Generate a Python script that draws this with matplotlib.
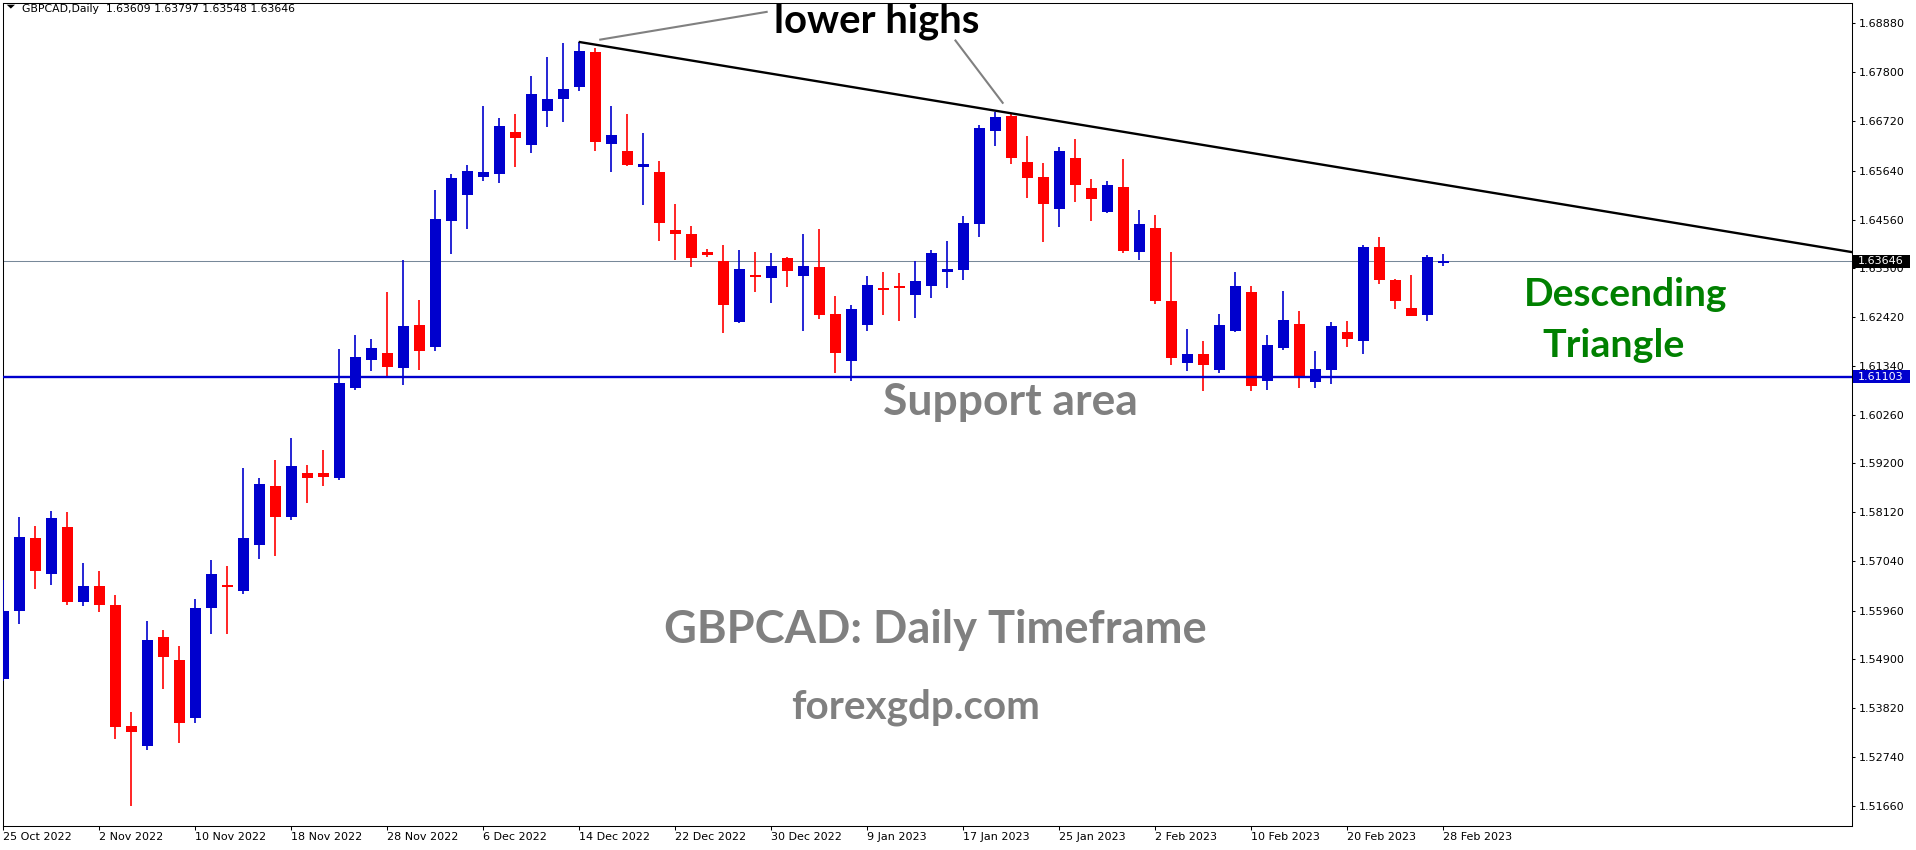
import matplotlib
matplotlib.use("Agg")
import matplotlib.pyplot as plt
import matplotlib.transforms as mtransforms
from matplotlib.patches import Rectangle, Polygon

# ---------------- data ----------------
symbol_header = "GBPCAD,Daily  1.63609 1.63797 1.63548 1.63646"
tick_labels = ["25 Oct 2022", "2 Nov 2022", "10 Nov 2022", "18 Nov 2022", "28 Nov 2022",
               "6 Dec 2022", "14 Dec 2022", "22 Dec 2022", "30 Dec 2022", "9 Jan 2023",
               "17 Jan 2023", "25 Jan 2023", "2 Feb 2023", "10 Feb 2023", "20 Feb 2023",
               "28 Feb 2023"]
bars_per_tick = 6

opens = [1.5446, 1.5596, 1.5755, 1.5676, 1.5779, 1.5615, 1.5649, 1.5609, 1.5341, 1.5298,
         1.5537, 1.5488, 1.5360, 1.5602, 1.5653, 1.5639, 1.5740, 1.5869, 1.5801, 1.5898,
         1.5898, 1.5887, 1.6085, 1.6147, 1.6163, 1.6129, 1.6224, 1.6175, 1.6454, 1.6511,
         1.6550, 1.6556, 1.6648, 1.6620, 1.6694, 1.6721, 1.6747, 1.6825, 1.6623, 1.6606,
         1.6571, 1.6560, 1.6433, 1.6424, 1.6384, 1.6365, 1.6230, 1.6334, 1.6327, 1.6371,
         1.6331, 1.6352, 1.6249, 1.6144, 1.6224, 1.6306, 1.6311, 1.6290, 1.6310, 1.6340,
         1.6345, 1.6447, 1.6652, 1.6685, 1.6583, 1.6550, 1.6480, 1.6592, 1.6526, 1.6472,
         1.6528, 1.6384, 1.6438, 1.6276, 1.6141, 1.6161, 1.6125, 1.6212, 1.6297, 1.6100,
         1.6173, 1.6227, 1.6098, 1.6125, 1.6208, 1.6188, 1.6395, 1.6323, 1.6262, 1.6246,
         1.63609]
highs = [1.5664, 1.5802, 1.5781, 1.5814, 1.5812, 1.5700, 1.5682, 1.5631, 1.5372, 1.5572,
         1.5554, 1.5519, 1.5622, 1.5708, 1.5693, 1.5910, 1.5888, 1.5927, 1.5976, 1.5917,
         1.5950, 1.6172, 1.6203, 1.6194, 1.6296, 1.6367, 1.6280, 1.6522, 1.6557, 1.6577,
         1.6706, 1.6679, 1.6689, 1.6772, 1.6814, 1.6845, 1.6847, 1.6834, 1.6706, 1.6689,
         1.6647, 1.6585, 1.6491, 1.6442, 1.6391, 1.6400, 1.6390, 1.6385, 1.6383, 1.6373,
         1.6424, 1.6436, 1.6289, 1.6268, 1.6333, 1.6341, 1.6339, 1.6364, 1.6390, 1.6409,
         1.6463, 1.6664, 1.6693, 1.6689, 1.6640, 1.6580, 1.6616, 1.6634, 1.6546, 1.6540,
         1.6590, 1.6478, 1.6466, 1.6385, 1.6216, 1.6190, 1.6249, 1.6341, 1.6310, 1.6203,
         1.6299, 1.6255, 1.6166, 1.6231, 1.6234, 1.6400, 1.6418, 1.6325, 1.6335, 1.6379,
         1.63797]
lows = [1.5440, 1.5566, 1.5644, 1.5652, 1.5608, 1.5606, 1.5593, 1.5314, 1.5166, 1.5290,
        1.5423, 1.5305, 1.5348, 1.5545, 1.5545, 1.5632, 1.5709, 1.5715, 1.5795, 1.5832,
        1.5870, 1.5883, 1.6081, 1.6122, 1.6112, 1.6092, 1.6125, 1.6167, 1.6381, 1.6435,
        1.6542, 1.6536, 1.6571, 1.6602, 1.6659, 1.6670, 1.6740, 1.6608, 1.6560, 1.6574,
        1.6488, 1.6410, 1.6367, 1.6352, 1.6374, 1.6206, 1.6228, 1.6296, 1.6272, 1.6308,
        1.6212, 1.6237, 1.6118, 1.6100, 1.6211, 1.6246, 1.6233, 1.6240, 1.6283, 1.6305,
        1.6324, 1.6417, 1.6618, 1.6579, 1.6503, 1.6407, 1.6439, 1.6495, 1.6454, 1.6470,
        1.6383, 1.6367, 1.6271, 1.6136, 1.6124, 1.6078, 1.6118, 1.6209, 1.6078, 1.6082,
        1.6169, 1.6085, 1.6085, 1.6094, 1.6175, 1.6160, 1.6314, 1.6259, 1.6245, 1.6233,
        1.63548]
closes = [1.5596, 1.5758, 1.5683, 1.5800, 1.5615, 1.5651, 1.5608, 1.5340, 1.5329, 1.5531,
          1.5494, 1.5348, 1.5601, 1.5677, 1.5647, 1.5755, 1.5875, 1.5801, 1.5913, 1.5887,
          1.5889, 1.6097, 1.6154, 1.6174, 1.6131, 1.6223, 1.6167, 1.6458, 1.6548, 1.6564,
          1.6560, 1.6663, 1.6635, 1.6733, 1.6721, 1.6744, 1.6827, 1.6626, 1.6643, 1.6576,
          1.6578, 1.6448, 1.6424, 1.6371, 1.6379, 1.6268, 1.6348, 1.6329, 1.6354, 1.6342,
          1.6354, 1.6246, 1.6162, 1.6260, 1.6312, 1.6302, 1.6306, 1.6322, 1.6383, 1.6347,
          1.6449, 1.6658, 1.6682, 1.6591, 1.6548, 1.6490, 1.6607, 1.6532, 1.6501, 1.6533,
          1.6387, 1.6447, 1.6277, 1.6152, 1.6161, 1.6136, 1.6224, 1.6309, 1.6090, 1.6181,
          1.6236, 1.6113, 1.6128, 1.6223, 1.6193, 1.6395, 1.6323, 1.6277, 1.6245, 1.6374,
          1.63646]

last_price = 1.63646
support_price = 1.61103
y_ticks = [1.68880, 1.67800, 1.66720, 1.65640, 1.64560, 1.63500, 1.62420, 1.61340,
           1.60260, 1.59200, 1.58120, 1.57040, 1.55960, 1.54900, 1.53820, 1.52740, 1.51660]

# trendline and pointer lines (bar index, price)
trend_x = [35.95, 115.8]
trend_y = [1.6847, 1.6383]
pointer1_x = [37.3, 47.7]
pointer1_y = [1.6852, 1.6913]
pointer2_x = [59.5, 62.45]
pointer2_y = [1.6850, 1.6713]

# ---------------- layout ----------------
W, H, DPI = 1916, 850, 100
L, R, T, B = 2.5, 1852.3, 2.7, 826.1      # plot frame in pixels
fig = plt.figure(figsize=(W / DPI, H / DPI), dpi=DPI)
fig.patch.set_facecolor("white")
ax = fig.add_axes([L / W, 1 - B / H, (R - L) / W, (B - T) / H])
ax.set_facecolor("white")

BULL = "#0000CD"
BEAR = "#FF0000"
n = len(opens)
xs = list(range(n))
colors = [BULL if c >= o else BEAR for o, c in zip(opens, closes)]

min_body = 0.0004
bottoms, heights = [], []
for o, c in zip(opens, closes):
    h = abs(c - o)
    if h < min_body:
        bottoms.append((o + c) / 2 - min_body / 2)
        heights.append(min_body)
    else:
        bottoms.append(min(o, c))
        heights.append(h)

ax.axhline(last_price, color="#778899", lw=0.75, zorder=1)
ax.vlines(xs, lows, highs, colors=colors, linewidth=1.2, zorder=3)
ax.bar(xs, heights, bottom=bottoms, width=0.69, color=colors, linewidth=0, zorder=4)
ax.axhline(support_price, color=BULL, lw=1.7, zorder=5)
ax.plot(trend_x, trend_y, color="black", lw=1.7, zorder=6, solid_capstyle="butt")
ax.plot(pointer1_x, pointer1_y, color="#808080", lw=1.5, zorder=6)
ax.plot(pointer2_x, pointer2_y, color="#808080", lw=1.5, zorder=6)

ax.set_xlim(-0.06, -0.06 + (R - L) / 16.0)
ax.set_ylim(1.51219, 1.69332)

ax.set_xticks(list(range(0, n, bars_per_tick)))
ax.set_xticklabels(tick_labels, ha="left")
ax.yaxis.tick_right()
ax.set_yticks(y_ticks)
ax.set_yticklabels([f"{v:.5f}" for v in y_ticks])
ax.tick_params(axis="both", labelsize=8, colors="black", width=0.75)
ax.tick_params(axis="x", length=3.0, pad=1.5)
ax.tick_params(axis="y", length=2.2, pad=2.2)
for s in ax.spines.values():
    s.set_linewidth(0.75)
    s.set_color("black")

# price boxes on the right axis
trans = mtransforms.blended_transform_factory(ax.transAxes, ax.transData)
px_price = (1.69332 - 1.51219) / (B - T)
box_h = 13 * px_price
box_x0 = (1853 - L) / (R - L)
box_w = 57 / (R - L)
text_x = (1858.3 - L) / (R - L)
for price, fc in [(last_price, "black"), (support_price, BULL)]:
    ax.add_patch(Rectangle((box_x0, price - box_h / 2), box_w, box_h, transform=trans,
                           facecolor=fc, edgecolor="none", clip_on=False, zorder=7))
    ax.text(text_x, price, f"{price:.5f}", transform=trans, color="white", fontsize=8,
            ha="left", va="center", zorder=8, clip_on=False)

# header
fig.add_artist(Polygon([[6.7 / W, 1 - 4.7 / H], [15 / W, 1 - 4.7 / H], [10.85 / W, 1 - 8.6 / H]],
                       closed=True, facecolor="black", edgecolor="none", transform=fig.transFigure))
hdr = fig.text(21.7 / W, 1 - 11.5 / H, symbol_header, fontsize=8, family="DejaVu Sans",
               ha="left", va="baseline", color="black")

# annotation texts (center x px, baseline y px, target width px)
FONT = ["Lato", "DejaVu Sans"]
texts = []
def put(s, cx, by, tw, color):
    t = fig.text(cx / W, 1 - by / H, s, fontsize=30, family=FONT, weight="bold",
                 ha="center", va="baseline", color=color)
    texts.append((t, tw))

put("lower highs", 876.5, 33, 205, "black")
put("Support area", 1010, 415, 254, "#808080")
put("Descending", 1626, 306, 203, "#008000")
put("Triangle", 1614, 357, 142, "#008000")
put("GBPCAD: Daily Timeframe", 935, 643, 543, "#808080")
put("forexgdp.com", 916, 718, 248, "#808080")
texts.append((hdr, 274))

fig.canvas.draw()
rend = fig.canvas.get_renderer()
for t, tw in texts:
    w = t.get_window_extent(rend).width
    t.set_fontsize(t.get_fontsize() * tw / w)

fig.savefig("out.png", dpi=DPI, facecolor="white")
